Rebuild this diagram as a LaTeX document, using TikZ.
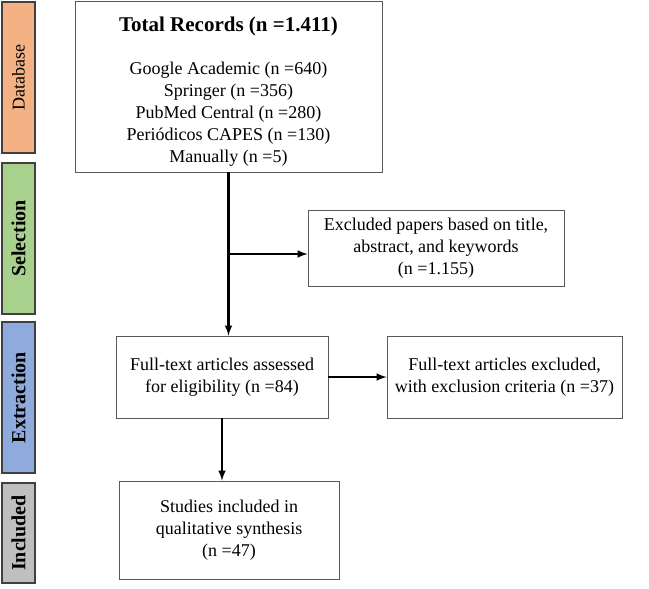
\documentclass[tikz,border=0pt]{standalone}
\usepackage{xcolor}
\usepackage{fontspec}
\setmainfont{Liberation Serif}
\usepackage{tikz}
\usetikzlibrary{shapes,positioning}
\usetikzlibrary{calc}
\usetikzlibrary{arrows}
\definecolor{dbOrange}{HTML}{F4B183}
\definecolor{selGreen}{HTML}{A9D18E}
\definecolor{extBlue}{HTML}{8FAADC}
\definecolor{incGray}{HTML}{BFBFBF}
\tikzset{
	phase/.style={draw=black!75,line width=1.1pt,rotate=90,inner sep=0pt,minimum height=33pt,font=\fontsize{20}{24}\selectfont},
	boite/.style={draw=black!65,line width=0.8pt,align=center,inner sep=0pt,font=\fontsize{18}{22}\selectfont},
	fleche/.style={line width=2.4pt,-latex}
}

\begin{document}
\begin{tikzpicture}[x=1pt,y=-1pt]
	\useasboundingbox (0,0) rectangle (649,589);
	\def\xbar{18.5};
	
	%Bandeaux des phases
	\node[phase,fill=dbOrange,minimum width=151pt,font=\fontsize{18}{22}\selectfont] (db) at (\xbar,77.5) {Database};
	\node[phase,fill=selGreen,minimum width=151pt] (sel) at (\xbar,238.5) {\bfseries Selection};
	\node[phase,fill=extBlue,minimum width=151pt] (ext) at (\xbar,397.5) {\bfseries Extraction};
	\node[phase,fill=incGray,minimum width=100pt] (inc) at (\xbar,533) {\bfseries Included};
	
	%Boites
	\node[boite,minimum width=307pt,minimum height=171pt] (total) at (228.5,86.5) {};
	\node[align=center,font=\fontsize{18}{22}\selectfont,yshift=-5pt] (totaltxt) at (total) {{\fontsize{21}{25}\selectfont\bfseries Total Records (n =1.411)}\\[21pt]
		Google Academic (n =640)\\ Springer (n =356)\\ PubMed Central (n =280)\\ Periódicos CAPES (n =130)\\ Manually (n =5)};
	\node[boite,minimum width=256pt,minimum height=76pt] (excl) at (436,248) {Excluded papers based on title,\\ abstract, and keywords\\ (n =1.155)};
	\node[boite,minimum width=212pt,minimum height=82pt] (ft) at (222,377) {Full-text articles assessed\\ for eligibility (n =84)};
	\node[boite,minimum width=235pt,minimum height=82pt] (ftx) at (504.5,377) {Full-text articles excluded,\\ with exclusion criteria (n =37)};
	\node[boite,minimum width=220pt,minimum height=98pt] (st) at (229,530) {Studies included in\\ qualitative synthesis\\ (n =47)};
	
	%Fleches
	\coordinate (br) at ($(total.south)!0.5!(total.south |- ft.north)$);
	\draw[fleche] (total.south) -- (total.south |- ft.north);
	\draw[fleche] (br) -- (excl.west |- br);
	\draw[fleche] (ft.east) -- (ftx.west);
	\draw[fleche] (ft.south) -- (ft.south |- st.north);
	
\end{tikzpicture}
\end{document}
